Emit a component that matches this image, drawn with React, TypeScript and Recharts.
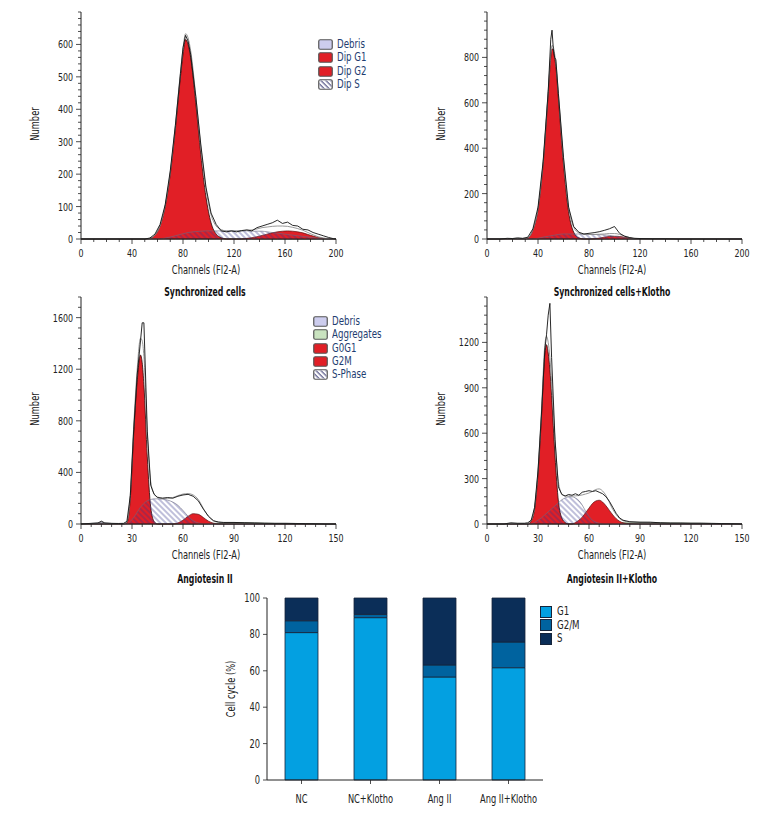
import React from "react";
import { Area, Bar, BarChart, ComposedChart, Line, XAxis, YAxis } from "recharts";

// ---- Synchronized cells ----
const ch1 = [0, 10, 20, 30, 40, 50, 54, 58, 62, 66, 70, 74, 78, 80, 82, 84, 86, 90, 94, 98, 102, 106, 110, 114, 118, 122, 126, 130, 134, 138, 142, 146, 150, 154, 158, 162, 166, 170, 174, 178, 182, 186, 190, 194, 198, 200];
const raw1 = [0, 0, 0, 0, 0, 0, 3, 15, 45, 105, 210, 350, 510, 590, 628, 610, 570, 440, 290, 160, 80, 45, 25, 22, 25, 22, 26, 28, 25, 35, 40, 45, 50, 58, 48, 52, 42, 40, 30, 28, 20, 15, 10, 5, 1, 0];
const fit1 = [0, 0, 0, 0, 0, 0, 2, 12, 40, 103, 206, 350, 514, 586, 633, 620, 581, 443, 284, 155, 75, 40, 29, 25, 25, 25, 25, 27, 28, 31, 35, 37, 39, 40, 40, 39, 36, 32, 27, 20, 13, 7, 3, 1, 0, 0];
const g1_1 = [0, 0, 0, 0, 0, 0, 2, 12, 40, 100, 200, 340, 500, 570, 615, 600, 560, 420, 260, 130, 50, 15, 4, 0, 0, 0, 0, 0, 0, 0, 0, 0, 0, 0, 0, 0, 0, 0, 0, 0, 0, 0, 0, 0, 0, 0];
const g2_1 = [0, 0, 0, 0, 0, 0, 0, 0, 0, 0, 0, 0, 0, 0, 0, 0, 0, 0, 0, 0, 0, 0, 0, 0, 0, 0, 0, 2, 4, 7, 11, 15, 19, 22, 24, 25, 24, 22, 19, 14, 9, 5, 2, 1, 0, 0];
const s1 = [0, 0, 0, 0, 0, 0, 0, 0, 0, 3, 6, 10, 14, 16, 18, 20, 21, 23, 24, 25, 25, 25, 25, 25, 25, 25, 25, 25, 24, 24, 24, 22, 20, 18, 16, 14, 12, 10, 8, 6, 4, 2, 1, 0, 0, 0];

// ---- Synchronized cells + Klotho ----
const ch2 = [0, 10, 16, 20, 24, 28, 32, 36, 40, 44, 48, 50, 51, 52, 53, 54, 56, 60, 64, 68, 72, 76, 80, 84, 88, 92, 96, 100, 102, 104, 108, 112, 116, 120, 130, 140, 150, 160, 170, 180, 190, 200];
const raw2 = [0, 0, 3, 2, 5, 3, 8, 45, 140, 340, 650, 880, 920, 840, 800, 790, 640, 360, 140, 55, 30, 22, 25, 28, 32, 38, 45, 55, 40, 25, 12, 6, 3, 2, 1, 1, 0, 0, 0, 0, 0, 0];
const fit2 = [0, 0, 0, 0, 0, 0, 5, 40, 133, 338, 652, 814, 853, 846, 817, 778, 640, 352, 142, 52, 27, 21, 20, 20, 21, 22, 24, 24, 23, 20, 13, 6, 1, 0, 0, 0, 0, 0, 0, 0, 0, 0];
const g1_2 = [0, 0, 0, 0, 0, 0, 5, 40, 130, 330, 640, 800, 838, 830, 800, 760, 620, 330, 120, 30, 5, 0, 0, 0, 0, 0, 0, 0, 0, 0, 0, 0, 0, 0, 0, 0, 0, 0, 0, 0, 0, 0];
const g2_2 = [0, 0, 0, 0, 0, 0, 0, 0, 0, 0, 0, 0, 0, 0, 0, 0, 0, 0, 0, 0, 0, 0, 0, 1, 4, 8, 11, 11, 12, 11, 8, 4, 1, 0, 0, 0, 0, 0, 0, 0, 0, 0];
const s2 = [0, 0, 0, 0, 0, 0, 0, 0, 3, 8, 12, 14, 15, 16, 17, 18, 20, 22, 22, 22, 22, 21, 20, 20, 19, 18, 16, 13, 11, 9, 5, 2, 0, 0, 0, 0, 0, 0, 0, 0, 0, 0];

// ---- Angiotesin II ----
const ch3 = [0, 6, 10, 12, 14, 18, 22, 25, 27, 29, 31, 33, 35, 36, 37, 39, 41, 43, 45, 48, 51, 54, 57, 60, 63, 66, 69, 72, 75, 78, 81, 84, 90, 96, 102, 108, 114, 120, 126, 132, 138, 144, 150];
const raw3 = [0, 5, 8, 22, 8, 5, 4, 5, 20, 220, 730, 1150, 1420, 1560, 1560, 720, 300, 230, 205, 200, 205, 200, 215, 225, 230, 215, 180, 115, 60, 25, 15, 12, 12, 10, 8, 6, 5, 5, 4, 3, 2, 0, 0];
const fit3 = [0, 4, 6, 15, 6, 4, 3, 3, 15, 230, 760, 1190, 1440, 1420, 1300, 700, 330, 235, 210, 200, 200, 205, 220, 232, 236, 225, 190, 120, 58, 24, 14, 11, 10, 9, 8, 6, 5, 5, 4, 3, 2, 1, 0];
const g1_3 = [0, 0, 0, 0, 0, 0, 0, 0, 10, 200, 700, 1100, 1310, 1250, 1080, 520, 130, 20, 0, 0, 0, 0, 0, 0, 0, 0, 0, 0, 0, 0, 0, 0, 0, 0, 0, 0, 0, 0, 0, 0, 0, 0, 0];
const g2_3 = [0, 0, 0, 0, 0, 0, 0, 0, 0, 0, 0, 0, 0, 0, 0, 0, 0, 0, 0, 0, 0, 0, 8, 30, 60, 80, 75, 50, 22, 6, 0, 0, 0, 0, 0, 0, 0, 0, 0, 0, 0, 0, 0];
const s3 = [0, 0, 0, 0, 0, 0, 0, 0, 0, 20, 50, 90, 130, 145, 160, 180, 190, 195, 195, 192, 185, 170, 145, 105, 60, 25, 8, 0, 0, 0, 0, 0, 0, 0, 0, 0, 0, 0, 0, 0, 0, 0, 0];
const agg3 = [0, 0, 0, 0, 0, 0, 0, 0, 0, 0, 0, 0, 0, 0, 0, 0, 0, 0, 0, 0, 0, 0, 0, 0, 0, 0, 0, 0, 2, 5, 7, 8, 9, 9, 8, 6, 4, 2, 1, 0, 0, 0, 0];
const deb3 = [0, 4, 6, 15, 6, 4, 3, 3, 2, 1, 0, 0, 0, 0, 0, 0, 0, 0, 0, 0, 0, 0, 0, 0, 0, 0, 0, 0, 0, 0, 0, 0, 0, 0, 0, 0, 0, 0, 0, 0, 0, 0, 0];

// ---- Angiotesin II + Klotho ----
const ch4 = [0, 10, 14, 18, 22, 24, 26, 28, 30, 32, 34, 35, 36, 37, 38, 40, 42, 44, 46, 48, 50, 52, 54, 56, 58, 60, 62, 64, 66, 68, 70, 72, 74, 76, 78, 80, 84, 90, 96, 102, 108, 114, 120, 126, 132, 138, 144, 150];
const raw4 = [0, 0, 8, 5, 5, 8, 25, 110, 350, 720, 1150, 1250, 1380, 1458, 1100, 560, 245, 195, 185, 195, 190, 200, 190, 210, 215, 220, 215, 220, 210, 200, 180, 150, 110, 70, 40, 25, 15, 12, 12, 8, 6, 6, 5, 5, 4, 3, 2, 0];
const fit4 = [0, 0, 3, 3, 3, 4, 22, 112, 355, 740, 1180, 1240, 1200, 1100, 940, 560, 280, 200, 185, 185, 185, 186, 188, 192, 198, 205, 215, 228, 232, 218, 188, 142, 96, 62, 36, 22, 13, 11, 10, 8, 7, 6, 5, 5, 4, 3, 2, 1];
const g1_4 = [0, 0, 0, 0, 0, 0, 20, 100, 330, 700, 1120, 1185, 1130, 1020, 850, 450, 150, 40, 10, 0, 0, 0, 0, 0, 0, 0, 0, 0, 0, 0, 0, 0, 0, 0, 0, 0, 0, 0, 0, 0, 0, 0, 0, 0, 0, 0, 0, 0];
const g2_4 = [0, 0, 0, 0, 0, 0, 0, 0, 0, 0, 0, 0, 0, 0, 0, 0, 0, 0, 0, 0, 0, 10, 25, 45, 75, 105, 135, 152, 157, 145, 120, 90, 60, 35, 18, 8, 2, 0, 0, 0, 0, 0, 0, 0, 0, 0, 0, 0];
const s4 = [0, 0, 0, 0, 0, 0, 0, 10, 25, 40, 60, 70, 80, 90, 100, 120, 140, 160, 172, 180, 180, 172, 155, 125, 85, 50, 25, 12, 5, 0, 0, 0, 0, 0, 0, 0, 0, 0, 0, 0, 0, 0, 0, 0, 0, 0, 0, 0];
const agg4 = [0, 0, 0, 0, 0, 0, 0, 0, 0, 0, 0, 0, 0, 0, 0, 0, 0, 0, 0, 0, 0, 0, 0, 0, 0, 0, 0, 0, 0, 0, 0, 2, 4, 6, 8, 9, 9, 10, 9, 8, 7, 6, 5, 4, 3, 2, 1, 0];

// ---- Cell cycle bars ----
const groups = ["NC", "NC+Klotho", "Ang II", "Ang II+Klotho"];
const g1Pct = [81, 89.2, 56.6, 61.7];
const g2mPct = [6.5, 1.8, 6.6, 14.1];
const sPct = [12.5, 9, 36.8, 24.2];

const FONT = "'DejaVu Sans Condensed', 'Liberation Sans Narrow', sans-serif";
const INK = "#222";
const RED = "#e11f26";
const LEG = "#1e3d70";
const SQUEEZE = 0.8; // the original uses a condensed face, narrower than anything installed

const steps = (max: number, step: number) =>
  Array.from({ length: Math.round(max / step) + 1 }, (_, i) => i * step);

const Narrow = ({ x, y, anchor, size = 11, children }: any) => (
  <text
    transform={`translate(${x},${y}) scale(${SQUEEZE},1)`}
    textAnchor={anchor}
    fontSize={size}
    fill={INK}
    fontFamily={FONT}
  >
    {children}
  </text>
);

const yTick = (major: number, labelMax: number) => (p: any) => {
  const v = p.payload.value;
  const big = v % major === 0 && v <= labelMax;
  return (
    <g>
      <line x1={p.x} x2={p.x - (big ? 5 : 3)} y1={p.y} y2={p.y} stroke={INK} strokeWidth={0.8} />
      {big && (
        <Narrow x={p.x - 8} y={p.y + 4} anchor="end">
          {v}
        </Narrow>
      )}
    </g>
  );
};

const xTick = (major: number) => (p: any) => {
  const v = p.payload.value;
  const big = v % major === 0;
  return (
    <g>
      <line x1={p.x} x2={p.x} y1={p.y} y2={p.y + (big ? 5 : 3)} stroke={INK} strokeWidth={0.8} />
      {big && (
        <Narrow x={p.x} y={p.y + 18} anchor="middle">
          {v}
        </Narrow>
      )}
    </g>
  );
};

type Hist = {
  left: number;
  top: number;
  width: number;
  height: number;
  margin: { top: number; right: number; bottom: number; left: number };
  ch: number[];
  raw: number[];
  fit: number[];
  g1: number[];
  g2: number[];
  s: number[];
  agg?: number[];
  deb?: number[];
  yMax: number;
  yMinor: number;
  yMajor: number;
  yLabelMax: number;
  xMax: number;
  xMinor: number;
  xMajor: number;
  pid: string;
};

// axes get 1px of room (a zero-sized axis is not drawn), so margins are one less
const Histogram = (h: Hist) => {
  const rows = h.ch.map((c, i) => ({
    ch: c,
    raw: h.raw[i],
    fit: h.fit[i],
    g1: h.g1[i],
    g2: h.g2[i],
    s: h.s[i],
    agg: h.agg ? h.agg[i] : 0,
    deb: h.deb ? h.deb[i] : 0,
  }));
  const plotTop = h.top + h.margin.top;
  const plotBottom = h.top + h.height - h.margin.bottom - 1;
  const plotLeft = h.left + h.margin.left + 1;
  const plotRight = h.left + h.width - h.margin.right;
  return (
    <>
      <div style={{ position: "absolute", left: h.left, top: h.top }}>
        <ComposedChart width={h.width} height={h.height} data={rows} margin={h.margin}>
          <defs>
            <pattern id={h.pid} width={4} height={4} patternUnits="userSpaceOnUse" patternTransform="rotate(-45)">
              <line x1={1} y1={0} x2={1} y2={4} stroke="#33338a" strokeWidth={0.9} opacity={0.7} />
            </pattern>
          </defs>
          <XAxis
            type="number"
            dataKey="ch"
            domain={[0, h.xMax]}
            ticks={steps(h.xMax, h.xMinor)}
            interval={0}
            height={1}
            tickSize={0}
            tickMargin={0}
            tickLine={false}
            axisLine={{ stroke: INK, strokeWidth: 1 }}
            tick={xTick(h.xMajor)}
          />
          <YAxis
            type="number"
            domain={[0, h.yMax]}
            ticks={steps(h.yMax, h.yMinor)}
            interval={0}
            width={1}
            tickSize={0}
            tickMargin={0}
            tickLine={false}
            axisLine={{ stroke: INK, strokeWidth: 1 }}
            tick={yTick(h.yMajor, h.yLabelMax)}
          />
          <Area type="monotone" dataKey="deb" fill="#cdcdee" stroke="#7a7aa0" strokeWidth={0.6} fillOpacity={1} dot={false} activeDot={false} isAnimationActive={false} />
          <Area type="monotone" dataKey="agg" fill="#c9e3bf" stroke="#7a9a70" strokeWidth={0.6} fillOpacity={1} dot={false} activeDot={false} isAnimationActive={false} />
          <Area type="monotone" dataKey="g1" fill={RED} stroke="#2a0808" strokeWidth={0.8} fillOpacity={1} dot={false} activeDot={false} isAnimationActive={false} />
          <Area type="monotone" dataKey="g2" fill={RED} stroke="#5a0e0e" strokeWidth={0.7} fillOpacity={1} dot={false} activeDot={false} isAnimationActive={false} />
          <Area type="monotone" dataKey="s" fill={`url(#${h.pid})`} stroke="#6a6a80" strokeWidth={0.6} fillOpacity={1} dot={false} activeDot={false} isAnimationActive={false} />
          <Line type="monotone" dataKey="fit" stroke="#8c8c8c" strokeWidth={0.9} dot={false} activeDot={false} isAnimationActive={false} />
          <Line type="linear" dataKey="raw" stroke="#111" strokeWidth={0.9} dot={false} activeDot={false} isAnimationActive={false} />
        </ComposedChart>
      </div>
      <AxisTitle cx={(plotLeft + plotRight) / 2 - 3} cy={plotBottom + 31} text="Channels (FI2-A)" />
      <AxisTitle cx={plotLeft - 46} cy={(plotTop + plotBottom) / 2 - 2} text="Number" rotate />
    </>
  );
};

const AxisTitle = ({ cx, cy, text, rotate }: { cx: number; cy: number; text: string; rotate?: boolean }) => (
  <div
    style={{
      position: "absolute",
      left: cx,
      top: cy,
      whiteSpace: "nowrap",
      fontFamily: FONT,
      fontSize: 11.5,
      lineHeight: "14px",
      color: INK,
      transform: `translate(-50%,-50%) ${rotate ? "rotate(-90deg) " : ""}scaleX(${SQUEEZE})`,
    }}
  >
    {text}
  </div>
);

type LegItem = { label: string; kind: "debris" | "agg" | "red" | "hatch" };

const Swatch = ({ kind }: { kind: LegItem["kind"] }) => {
  const fill = kind === "debris" ? "#cdcdee" : kind === "agg" ? "#c9e3bf" : kind === "red" ? RED : "#fff";
  return (
    <svg width={15} height={11} style={{ display: "block" }}>
      <defs>
        <pattern id="legHatch" width={3.5} height={3.5} patternUnits="userSpaceOnUse" patternTransform="rotate(-45)">
          <line x1={1} y1={0} x2={1} y2={3.5} stroke="#34346e" strokeWidth={1} />
        </pattern>
      </defs>
      <rect x={0.75} y={0.75} width={13.5} height={9.5} rx={1.5} fill={fill} stroke="#555" strokeWidth={1.2} />
      {kind === "hatch" && <rect x={1.5} y={1.5} width={12} height={8} fill="url(#legHatch)" />}
    </svg>
  );
};

const HistLegend = ({ left, top, items }: { left: number; top: number; items: LegItem[] }) => (
  <div style={{ position: "absolute", left, top, fontFamily: FONT, fontSize: 12, color: LEG }}>
    {items.map((it) => (
      <div key={it.label} style={{ display: "flex", alignItems: "center", height: 13.3 }}>
        <Swatch kind={it.kind} />
        <span style={{ marginLeft: 4, lineHeight: "13px", display: "inline-block", whiteSpace: "nowrap", transform: `scaleX(${SQUEEZE})`, transformOrigin: "left center" }}>
          {it.label}
        </span>
      </div>
    ))}
  </div>
);

const Title = ({ cx, top, text }: { cx: number; top: number; text: string }) => (
  <div
    style={{
      position: "absolute",
      left: cx - 120,
      width: 240,
      top,
      textAlign: "center",
      fontFamily: FONT,
      fontWeight: "bold",
      fontSize: 11.5,
      lineHeight: "14px",
      color: "#111",
      transform: "scaleX(0.75)",
    }}
  >
    {text}
  </div>
);

const barRows = groups.map((g, i) => ({ name: g, G1: g1Pct[i], G2M: g2mPct[i], S: sPct[i] }));
const BAR_COLORS = { G1: "#03a0e1", G2M: "#00639f", S: "#0b2e58" };

const barXTick = (p: any) => (
  <g>
    <line x1={p.x} x2={p.x} y1={p.y} y2={p.y + 4} stroke={INK} strokeWidth={0.8} />
    <Narrow x={p.x} y={p.y + 23} anchor="middle" size={11.5}>
      {p.payload.value}
    </Narrow>
  </g>
);

const barYTick = (p: any) => (
  <g>
    <line x1={p.x} x2={p.x - 4} y1={p.y} y2={p.y} stroke={INK} strokeWidth={0.8} />
    <Narrow x={p.x - 7} y={p.y + 4} anchor="end" size={11.5}>
      {p.payload.value}
    </Narrow>
  </g>
);

const CellCycle = () => (
  <>
    <div style={{ position: "absolute", left: 200, top: 580 }}>
      <BarChart width={400} height={236} data={barRows} margin={{ top: 18, right: 57, bottom: 35, left: 66 }} barSize={33}>
        <XAxis
          dataKey="name"
          height={1}
          interval={0}
          tickSize={0}
          tickMargin={0}
          tickLine={false}
          axisLine={{ stroke: INK }}
          tick={barXTick}
        />
        <YAxis
          type="number"
          domain={[0, 100]}
          ticks={[0, 20, 40, 60, 80, 100]}
          interval={0}
          width={1}
          tickSize={0}
          tickMargin={0}
          tickLine={false}
          axisLine={{ stroke: INK }}
          tick={barYTick}
        />
        <Bar dataKey="G1" stackId="a" fill={BAR_COLORS.G1} stroke="#16243a" strokeWidth={0.8} isAnimationActive={false} />
        <Bar dataKey="G2M" stackId="a" fill={BAR_COLORS.G2M} stroke="#16243a" strokeWidth={0.8} isAnimationActive={false} />
        <Bar dataKey="S" stackId="a" fill={BAR_COLORS.S} stroke="#16243a" strokeWidth={0.8} isAnimationActive={false} />
      </BarChart>
      <div style={{ position: "absolute", left: 340, top: 25, fontFamily: FONT, fontSize: 12, color: INK }}>
        {[
          ["G1", BAR_COLORS.G1],
          ["G2/M", BAR_COLORS.G2M],
          ["S", BAR_COLORS.S],
        ].map(([l, c]) => (
          <div key={l} style={{ display: "flex", alignItems: "center", height: 13.5 }}>
            <div style={{ width: 10, height: 10, background: c, border: "0.8px solid #16243a" }} />
            <span style={{ marginLeft: 5, lineHeight: "13px", display: "inline-block", transform: `scaleX(${SQUEEZE})`, transformOrigin: "left center" }}>{l}</span>
          </div>
        ))}
      </div>
    </div>
    <AxisTitle cx={231} cy={689} text="Cell cycle (%)" rotate />
  </>
);

export default function App() {
  return (
    <div style={{ position: "absolute", left: 0, top: 0, width: 780, height: 816, background: "#fff", overflow: "hidden" }}>
      <Histogram
        left={0} top={0} width={390} height={285}
        margin={{ top: 12, right: 54, bottom: 45, left: 80 }}
        ch={ch1} raw={raw1} fit={fit1} g1={g1_1} g2={g2_1} s={s1}
        yMax={700} yMinor={20} yMajor={100} yLabelMax={600} xMax={200} xMinor={10} xMajor={40} pid="hatch1"
      />
      <Histogram
        left={390} top={0} width={390} height={285}
        margin={{ top: 12, right: 38, bottom: 45, left: 96 }}
        ch={ch2} raw={raw2} fit={fit2} g1={g1_2} g2={g2_2} s={s2}
        yMax={1000} yMinor={40} yMajor={200} yLabelMax={800} xMax={200} xMinor={10} xMajor={40} pid="hatch2"
      />
      <Histogram
        left={0} top={285} width={390} height={300}
        margin={{ top: 12, right: 54, bottom: 60, left: 80 }}
        ch={ch3} raw={raw3} fit={fit3} g1={g1_3} g2={g2_3} s={s3} agg={agg3} deb={deb3}
        yMax={1760} yMinor={80} yMajor={400} yLabelMax={1600} xMax={150} xMinor={6} xMajor={30} pid="hatch3"
      />
      <Histogram
        left={390} top={285} width={390} height={300}
        margin={{ top: 12, right: 38, bottom: 60, left: 96 }}
        ch={ch4} raw={raw4} fit={fit4} g1={g1_4} g2={g2_4} s={s4} agg={agg4}
        yMax={1500} yMinor={60} yMajor={300} yLabelMax={1200} xMax={150} xMinor={6} xMajor={30} pid="hatch4"
      />
      <HistLegend
        left={318} top={38}
        items={[
          { label: "Debris", kind: "debris" },
          { label: "Dip G1", kind: "red" },
          { label: "Dip G2", kind: "red" },
          { label: "Dip S", kind: "hatch" },
        ]}
      />
      <HistLegend
        left={313} top={315}
        items={[
          { label: "Debris", kind: "debris" },
          { label: "Aggregates", kind: "agg" },
          { label: "G0G1", kind: "red" },
          { label: "G2M", kind: "red" },
          { label: "S-Phase", kind: "hatch" },
        ]}
      />
      <Title cx={205} top={285} text="Synchronized cells" />
      <Title cx={612} top={285} text="Synchronized cells+Klotho" />
      <Title cx={205} top={572} text="Angiotesin II" />
      <Title cx={612} top={572} text="Angiotesin II+Klotho" />
      <CellCycle />
    </div>
  );
}
